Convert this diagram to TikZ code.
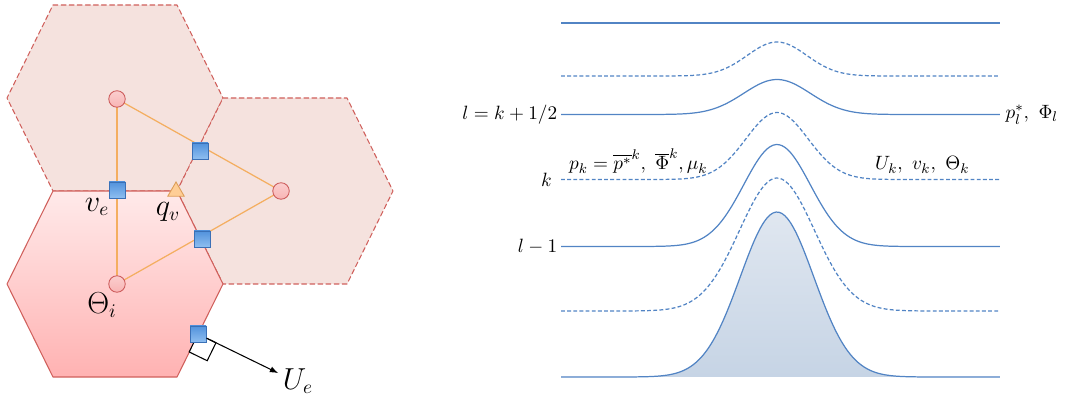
\documentclass[tikz,border=0pt]{standalone}
\usepackage{tkz-euclide}
\usetikzlibrary{arrows,calc,positioning,shapes.geometric}
\definecolor{CellClr}{RGB}{245,226,222}
\definecolor{CellLineClr}{RGB}{208,96,92}
\definecolor{HomeTopClr}{RGB}{255,234,234}
\definecolor{HomeBotClr}{RGB}{255,178,178}
\definecolor{EdgeClr}{RGB}{244,174,96}
\definecolor{QClr}{RGB}{255,206,150}
\definecolor{DotClr}{RGB}{248,180,180}
\definecolor{DotLineClr}{RGB}{205,92,92}
\definecolor{SqTopClr}{RGB}{82,146,220}
\definecolor{SqBotClr}{RGB}{142,190,240}
\definecolor{SqLineClr}{RGB}{58,112,182}
\definecolor{CurveClr}{RGB}{82,132,196}
\definecolor{BumpTopClr}{RGB}{224,231,240}
\definecolor{BumpBotClr}{RGB}{198,212,229}

\tikzset{
  cellctr/.style={circle,draw=DotLineClr,top color=DotClr!65!white,bottom color=DotClr,
    minimum size=.33cm,inner sep=0pt,line width=.5pt},
  facenode/.style={rectangle,draw=SqLineClr,top color=SqTopClr,bottom color=SqBotClr,
    minimum size=.32cm,inner sep=0pt,line width=.5pt},
  vertnode/.style={regular polygon,regular polygon sides=3,draw=EdgeClr!90!black,fill=QClr,
    minimum size=.38cm,inner sep=0pt,line width=.5pt},
  lbl/.style={font=\fontsize{16}{19}\selectfont},
  rlbl/.style={font=\fontsize{11}{13}\selectfont,inner sep=1pt},
  curve/.style={color=CurveClr,line width=.7pt},
  dcurve/.style={curve,dash pattern=on 2.2pt off 1.3pt}
}

\begin{document}
\begin{tikzpicture}
\useasboundingbox (0,0) rectangle (21.34,7.94);

\tkzDefPoints{1.06/7.84/A1,3.54/7.84/A2,4.46/5.98/A3,3.54/4.12/Q,1.06/4.12/A5,0.14/5.98/A6}
\tkzDefPoints{6.94/5.98/B1,7.86/4.12/B2,6.94/2.26/B3,4.46/2.26/B4}
\tkzDefPoints{0.14/2.26/C1,1.06/0.40/C2,3.54/0.40/C3}

\tkzDefPoints{2.34/5.96/O1,5.62/4.12/O2,2.34/2.26/O3}
\tkzDefPoints{2.34/4.14/F1,4.00/4.92/F2,4.04/3.16/F3,3.96/1.26/F4}
\tkzDefPoints{5.56/0.48/U}

% neighbour cells
\tkzDrawPolygon[fill=CellClr,draw=CellLineClr,line width=.6pt,dash pattern=on 2.8pt off 1.8pt](A1,A2,A3,Q,A5,A6)
\tkzDrawPolygon[fill=CellClr,draw=CellLineClr,line width=.6pt,dash pattern=on 2.8pt off 1.8pt](A3,B1,B2,B3,B4,Q)
% home cell
\tkzDrawPolygon[top color=HomeTopClr,bottom color=HomeBotClr,draw=CellLineClr,line width=.6pt](A5,Q,B4,C3,C2,C1)

\tkzDrawSegments[color=EdgeClr,line width=.7pt](O1,O2 O2,O3 O3,O1)

% right angle at the face
\coordinate (ra) at ($(F4)!.4cm!(U)$);
\coordinate (rb) at ($(F4)!.4cm!(C3)$);
\draw[line width=.6pt,fill=white] (F4) -- (ra) -- ($(ra)+(rb)-(F4)$) -- (rb) -- cycle;

\foreach \p/\n in {O1/o1,O2/o2,O3/o3}
  \node[cellctr] (\n) at (\p) {};
\foreach \p/\n in {F1/f1,F2/f2,F3/f3,F4/f4}
  \node[facenode] (\n) at (\p) {};
\node[vertnode] (q) at (3.52,4.11) {};

\draw[-latex,line width=.6pt] (f4) -- (U);

\node[lbl] (ve) at (1.94,3.80) {$v_e$};
\node[lbl] (qv) at (3.36,3.70) {$q_v$};
\node[lbl] (th) at (2.04,1.84) {$\Theta_i$};
\node[lbl] (ue) at (5.96,0.32) {$U_e$};

% levels
\foreach \i/\yb/\amp/\sig/\sty in {1/7.48/0/1/curve,2/6.42/0.68/0.84/dcurve,3/5.65/0.70/0.94/curve,
    4/4.35/1.34/0.88/dcurve,5/3.01/2.04/0.94/curve,6/1.72/2.66/1.06/dcurve}{
  \coordinate (s\i) at (11.22,\yb);
  \coordinate (e\i) at (20,\yb);
  \draw[\sty] plot[domain=11.22:20,samples=150,smooth] (\x,{\yb+\amp*exp(-(((\x-15.54)/\sig)^2))});
}
\coordinate (s7) at (11.22,0.40);
\shade[top color=BumpTopClr,bottom color=BumpBotClr] plot[domain=11.22:20,samples=150,smooth]
  (\x,{0.40+3.30*exp(-(((\x-15.54)/1.04)^2))}) -- cycle;
\draw[curve] plot[domain=11.22:20,samples=150,smooth] (\x,{0.40+3.30*exp(-(((\x-15.54)/1.04)^2))});

\node[rlbl,left=1pt of s3] (lhalf) {$l=k+1/2$};
\node[rlbl,left=4pt of s4] (lk) {$k$};
\node[rlbl,left=1pt of s5] (lprev) {$l-1$};
\node[rlbl,right=2pt of e3] (pl) {$p_l^*,\ \Phi_l$};
\node[rlbl,anchor=base west] (pk) at (11.34,4.54) {$p_k=\overline{p^*}^k,\ \overline{\Phi}^k,\mu_k$};
\node[rlbl,anchor=base west] (uk) at (17.46,4.54) {$U_k,\ v_k,\ \Theta_k$};

\end{tikzpicture}
\end{document}
